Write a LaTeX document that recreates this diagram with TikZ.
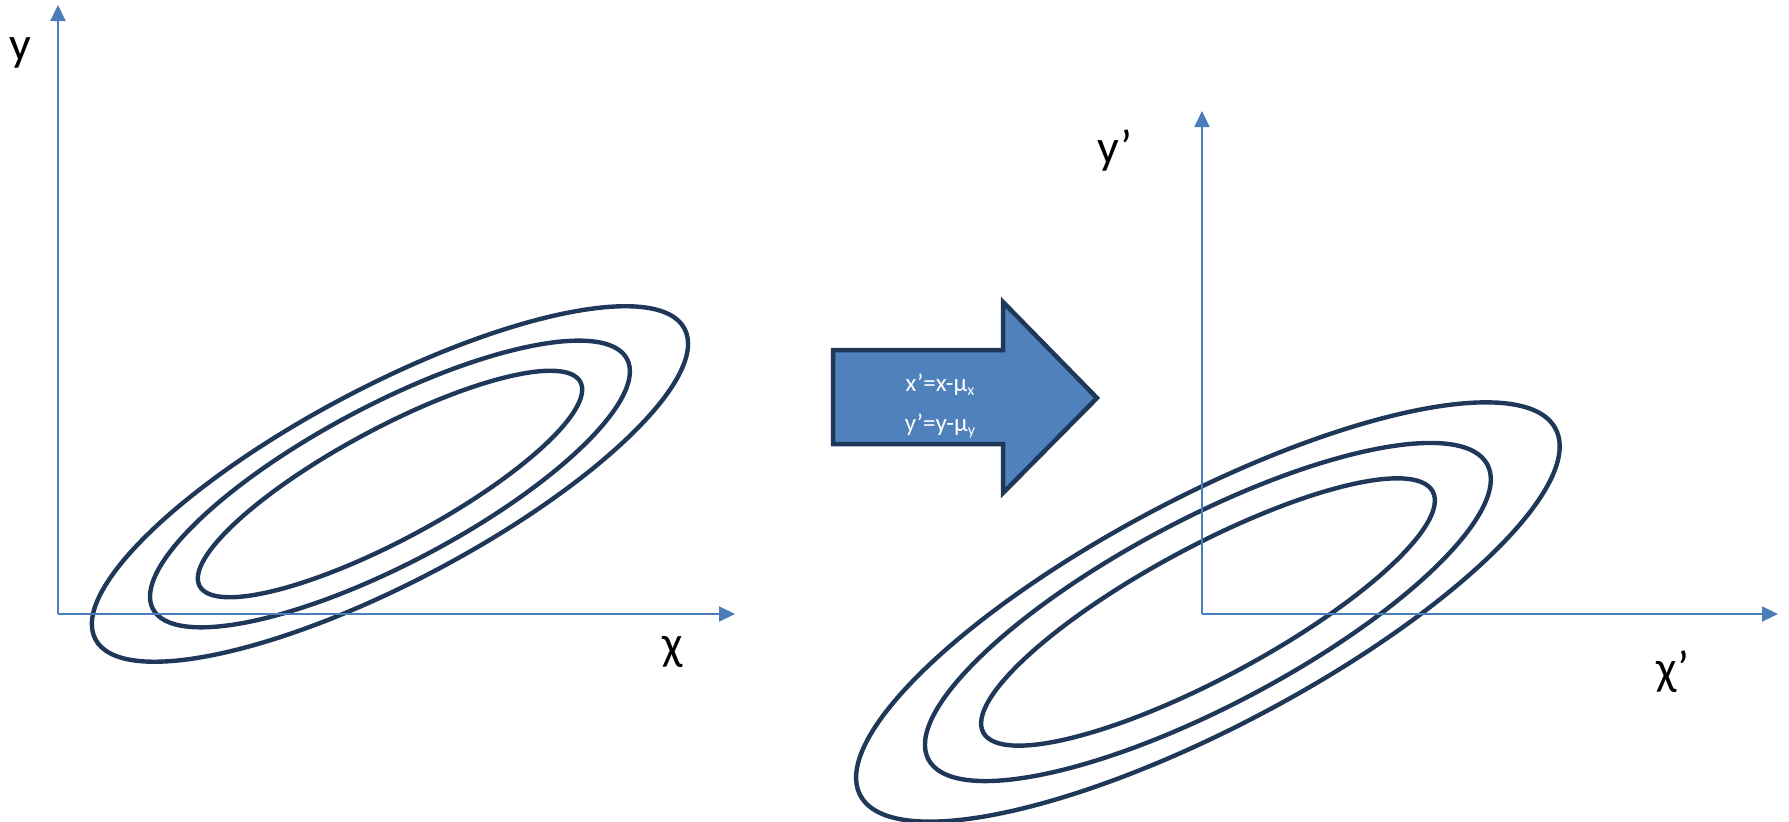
\documentclass[tikz,border=0pt]{standalone}
\usepackage{fontspec}
\setmainfont{Carlito}
\usetikzlibrary{arrows.meta}
\definecolor{axisblue}{RGB}{74,126,187}
\definecolor{fillblue}{RGB}{79,129,189}
\definecolor{navy}{RGB}{31,56,90}
\tikzset{
  axis/.style={draw=axisblue, line width=2.2pt, -{Triangle[length=16pt,width=15pt]}},
  contour/.style={draw=navy, line width=4.4pt},
  axlabel/.style={inner sep=0pt, font=\fontsize{48}{48}\selectfont},
  arrowtext/.style={inner sep=0pt, text=white, font=\fontsize{25}{25}\selectfont},
  bigarrow/.style={draw=navy, fill=fillblue, line width=4.5pt, line join=miter}
}
\newcommand{\sbs}[1]{\raisebox{-0.3ex}{\fontsize{16}{16}\selectfont #1}}
\begin{document}
\begin{tikzpicture}[x=1pt,y=-1pt]
\useasboundingbox (0,0) rectangle (1789,822);
% left contours
\coordinate (c1) at (390,484);
\draw[contour, rotate around={27.8:(c1)}] (c1) ellipse [x radius=333pt, y radius=97.7pt];
\draw[contour, rotate around={27.8:(c1)}] (c1) ellipse [x radius=268pt, y radius=79.3pt];
\draw[contour, rotate around={28.2:(c1)}] (c1) ellipse [x radius=216pt, y radius=55.6pt];
% right contours
\coordinate (c2) at (1208,612);
\draw[contour, rotate around={27.8:(c2)}] (c2) ellipse [x radius=393pt, y radius=115pt];
\draw[contour, rotate around={27.8:(c2)}] (c2) ellipse [x radius=316pt, y radius=93.6pt];
\draw[contour, rotate around={28.2:(c2)}] (c2) ellipse [x radius=255pt, y radius=65.6pt];
% left axes
\coordinate (o1) at (58,614);
\coordinate (y1) at (58,5);
\coordinate (x1) at (735,614);
\draw[axis] (o1) -- (y1);
\draw[axis] (o1) -- (x1);
\node[axlabel] (ly1) at (20,53) {y};
\node[axlabel] (lx1) at (673,652) {χ};
% right axes
\coordinate (o2) at (1202,614);
\coordinate (y2) at (1202,111);
\coordinate (x2) at (1778,614);
\draw[axis] (o2) -- (y2);
\draw[axis] (o2) -- (x2);
\node[axlabel] (ly2) at (1115,150) {y’};
\node[axlabel] (lx2) at (1673,672) {χ’};
% transformation arrow
\draw[bigarrow] (833,350) -- (1003,350) -- (1003,302) -- (1097,398) -- (1003,493) -- (1003,444) -- (833,444) -- cycle;
\node[arrowtext] (t1) at (940,385) {x’=x-μ\sbs{x}};
\node[arrowtext] (t2) at (940,426) {y’=y-μ\sbs{y}};
\end{tikzpicture}
\end{document}
